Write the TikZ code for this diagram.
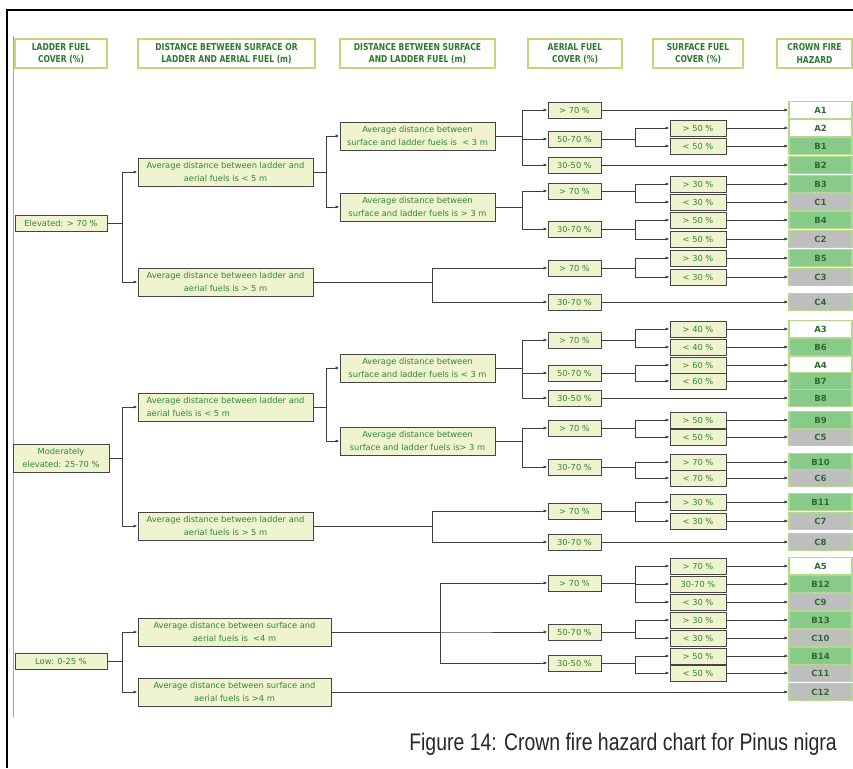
\documentclass[tikz,border=0pt]{standalone}
\usepackage{fontspec}
\setmainfont{DejaVu Sans}
\newfontfamily\hdrfam{DejaVu Sans}[FakeStretch=0.8]
\newfontfamily\capfam{Liberation Sans}[FakeStretch=0.81]
\usetikzlibrary{arrows.meta}
\definecolor{boxfill}{HTML}{EFF3D0}
\definecolor{boxline}{HTML}{454545}
\definecolor{txtgreen}{HTML}{2E8A2E}
\definecolor{hdrline}{HTML}{C5D67A}
\definecolor{hdrgreen}{HTML}{2B7A2B}
\definecolor{resline}{HTML}{B5D98A}
\definecolor{resB}{HTML}{88CA8A}
\definecolor{resC}{HTML}{BEBEBE}
\definecolor{restxt}{HTML}{2E6B2E}
\definecolor{connline}{HTML}{3F3F3F}
\tikzset{
  wh/.style 2 args={minimum width=#1pt, minimum height=#2pt},
  base/.style={draw=boxline, line width=0.9pt, fill=boxfill, text=txtgreen,
    font=\fontsize{8.3}{12.5}\selectfont, inner sep=0pt, align=center},
  hdr/.style={draw=hdrline, line width=1.3pt, fill=white, text=hdrgreen,
    font=\hdrfam\bfseries\fontsize{9.5}{12.5}\selectfont, inner sep=0pt, align=center, wh={#1}{29}},
  lvA/.style={base, wh={92}{16}},
  lvB/.style={base, wh={175}{28}},
  lvC/.style={base, wh={155}{28}},
  aer/.style={base, wh={53}{16}},
  surf/.style={base, wh={56}{16}},
  resA/.style={draw=resline, line width=1.2pt, fill=white, text=restxt,
    font=\bfseries\fontsize{8.5}{10}\selectfont, inner sep=0pt, wh={63}{17}},
  resB/.style={resA, fill=resB},
  resC/.style={resA, fill=resC},
  conn/.style={draw=connline, line width=1pt, -{Latex[length=4pt,width=3.2pt]}},
  plain/.style={draw=connline, line width=1pt}
}
\begin{document}
\begin{tikzpicture}[x=1pt,y=-1pt]
\useasboundingbox (0,0) rectangle (853,768);
% frame
\draw[black, line width=1.4pt] (853,10) -- (7,10) -- (7,768);
\draw[gray!70, line width=1pt] (13,36) -- (13,717);
% headers
\node[hdr=92] (H1) at (61,53.5) {LADDER FUEL\\COVER (\%)};
\node[hdr=177] (H2) at (226.5,53.5) {DISTANCE BETWEEN SURFACE OR\\LADDER AND AERIAL FUEL (m)};
\node[hdr=155] (H3) at (417.5,53.5) {DISTANCE BETWEEN SURFACE\\AND LADDER FUEL (m)};
\node[hdr=94] (H4) at (575,53.5) {AERIAL FUEL\\COVER (\%)};
\node[hdr=90] (H5) at (698,53.5) {SURFACE FUEL\\COVER (\%)};
\node[hdr=75] (H6) at (814.5,53.5) {CROWN FIRE\\HAZARD};
% level 1
\node[lvA] (E) at (61,223) {Elevated: > 70 \%};
\node[base, wh={96}{28}] (M) at (61,458) {Moderately\\elevated: 25-70 \%};
\node[lvA] (Lo) at (61,661) {Low: 0-25 \%};
% level 2
\node[lvB] (D1) at (225.5,172) {Average distance between ladder and\\aerial fuels is < 5 m};
\node[lvB] (D2) at (225.5,282) {Average distance between ladder and\\aerial fuels is > 5 m};
\node[lvB, align=left] (D3) at (225.5,407) {Average distance between ladder and\\aerial fuels is < 5 m};
\node[lvB] (D4) at (225.5,526) {Average distance between ladder and\\aerial fuels is > 5 m};
\node[base, wh={193}{28}] (D5) at (234.5,632) {Average distance between surface and\\aerial fuels is \ <4 m};
\node[base, wh={193}{28}] (D6) at (234.5,692) {Average distance between surface and\\aerial fuels is >4 m};
% level 3
\node[lvC] (S1) at (417.5,136) {Average distance between\\surface and ladder fuels is \ < 3 m};
\node[lvC] (S2) at (417.5,207) {Average distance between\\surface and ladder fuels is > 3 m};
\node[lvC] (S3) at (417.5,368) {Average distance between\\surface and ladder fuels is < 3 m};
\node[lvC] (S4) at (417.5,441) {Average distance between\\surface and ladder fuels is> 3 m};
% aerial fuel cover
\foreach \nm/\y/\lab in {a1/110/{> 70 \%}, a2/139/{50-70 \%}, a3/165/{30-50 \%},
  a4/191/{> 70 \%}, a5/229/{30-70 \%}, a6/268/{> 70 \%}, a7/302/{30-70 \%},
  a8/340/{> 70 \%}, a9/373/{50-70 \%}, a10/398/{30-50 \%}, a11/428/{> 70 \%},
  a12/467/{30-70 \%}, a13/511/{> 70 \%}, a14/542/{30-70 \%}, a15/583/{> 70 \%},
  a16/632/{50-70 \%}, a17/663/{30-50 \%}}
  \node[aer] (\nm) at (574.5,\y) {\lab};
% results
\foreach \nm/\y/\k in {A1/110/A, A2/128/A, B1/146/B, B2/165/B, B3/184/B, C1/202/C,
  B4/220/B, C2/239/C, B5/258/B, C3/277/C, C4/302/C, A3/329/A, B6/347/B, A4/365/A,
  B7/381/B, B8/398/B, B9/420/B, C5/437/C, B10/462/B, C6/478/C, B11/502/B, C7/521/C,
  C8/542/C, A5/566/A, B12/584/B, C9/602/C, B13/620/B, C10/638/C, B14/656/B,
  C11/673/C, C12/692/C}
  \node[res\k] (\nm) at (820.5,\y) {\nm};
% surface fuel cover + arrows to results
\foreach \nm/\y/\lab in {A2/128/{> 50 \%}, B1/146/{< 50 \%}, B3/184/{> 30 \%}, C1/202/{< 30 \%},
  B4/220/{> 50 \%}, C2/239/{< 50 \%}, B5/258/{> 30 \%}, C3/277/{< 30 \%},
  A3/329/{> 40 \%}, B6/347/{< 40 \%}, A4/365/{> 60 \%}, B7/381/{< 60 \%},
  B9/420/{> 50 \%}, C5/437/{< 50 \%}, B10/462/{> 70 \%}, C6/478/{< 70 \%},
  B11/502/{> 30 \%}, C7/521/{< 30 \%}, A5/566/{> 70 \%}, B12/584/{30-70 \%},
  C9/602/{< 30 \%}, B13/620/{> 30 \%}, C10/638/{< 30 \%}, B14/656/{> 50 \%}, C11/673/{< 50 \%}}
{
  \node[surf] (s\nm) at (698,\y) {\lab};
  \draw[conn] (s\nm.east) -- (\nm.west);
}
% level 1 -> level 2
\foreach \p/\c in {E/D1, E/D2, M/D3, M/D4, Lo/D5, Lo/D6}
  \draw[conn] (\p.east) -- (122,0 |- \p.east) |- (\c.west);
% level 2 -> level 3
\foreach \p/\c in {D1/S1, D1/S2, D3/S3, D3/S4}
  \draw[conn] (\p.east) -- ++(13,0) |- (\c.west);
% level 3 -> aerial
\foreach \p/\c in {S1/a1, S1/a2, S1/a3, S2/a4, S2/a5, S3/a8, S3/a9, S3/a10, S4/a11, S4/a12}
  \draw[conn] (\p.east) -- ++(27,0) |- (\c.west);
% level 2 (> 5 m) -> aerial
\foreach \p/\c in {D2/a6, D2/a7, D4/a13, D4/a14}
  \draw[conn] (\p.east) -- ++(119,0) |- (\c.west);
\foreach \c in {a15, a16, a17}
  \draw[conn] (D5.east) -- ++(109,0) |- (\c.west);
\draw[conn] (D6.east) -- (C12.west);
% aerial -> surface
\foreach \p/\c in {a2/A2, a2/B1, a4/B3, a4/C1, a5/B4, a5/C2, a6/B5, a6/C3,
  a8/A3, a8/B6, a9/A4, a9/B7, a11/B9, a11/C5, a12/B10, a12/C6, a13/B11, a13/C7,
  a15/A5, a15/B12, a15/C9, a16/B13, a16/C10, a17/B14, a17/C11}
  \draw[conn] (\p.east) -- ++(34,0) |- (s\c.west);
% aerial -> results directly
\foreach \p/\c in {a1/A1, a3/B2, a7/C4, a10/B8, a14/C8}
  \draw[conn] (\p.east) -- (\c.west);
% caption
\node[anchor=base east, inner sep=0pt, text=black!85, font=\capfam\fontsize{24}{28}\selectfont] (cap) at (837,750) {Figure 14: Crown fire hazard chart for Pinus nigra};
\end{tikzpicture}
\end{document}
